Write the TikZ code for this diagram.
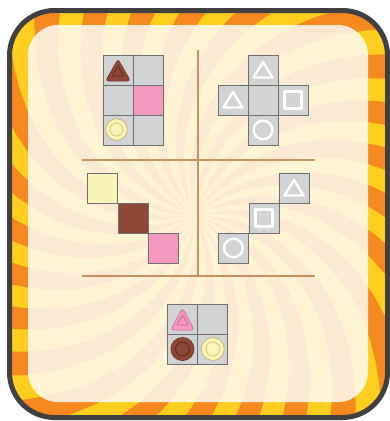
\documentclass[tikz,border=0pt]{standalone}
\usetikzlibrary{calc}
\definecolor{rayO}{RGB}{245,137,32}
\definecolor{rayY}{RGB}{255,206,30}
\definecolor{panelC}{RGB}{255,251,242}
\definecolor{borderC}{RGB}{64,64,66}
\definecolor{cellG}{RGB}{209,211,212}
\definecolor{cellL}{RGB}{110,111,113}
\definecolor{divC}{RGB}{198,146,98}
\definecolor{pinkC}{RGB}{244,154,193}
\definecolor{pinkD}{RGB}{214,100,145}
\definecolor{brownC}{RGB}{141,72,56}
\definecolor{brownD}{RGB}{105,45,35}
\definecolor{yelC}{RGB}{249,245,184}
\definecolor{yelD}{RGB}{190,172,100}
\definecolor{yelR}{RGB}{222,210,140}
\tikzset{
  cell/.style={draw=cellL, fill=cellG, minimum size=30, inner sep=0pt, line width=0.7pt},
  wsh/.style={draw=white, line width=2.4pt, line join=round},
  divider/.style={draw=divC, line width=2.9pt},
}
\newcommand\whtri[1]{\draw[wsh] ($(#1)+(0,-8)$) -- ($(#1)+(9.5,7.5)$) -- ($(#1)+(-9.5,7.5)$) -- cycle;}
\newcommand\whsq[1]{\draw[wsh] ($(#1)+(-8.5,-8.5)$) rectangle ($(#1)+(8.5,8.5)$);}
\newcommand\whcirc[1]{\draw[wsh] (#1) circle[radius=9.3];}
\begin{document}
\begin{tikzpicture}[x=1pt,y=-1pt]
\useasboundingbox (0,0) rectangle (390,421);
% sunburst background
\begin{scope}
\clip[rounded corners=45] (9.5,10.5) rectangle (387.5,417.5);
\fill[rayY] (0,0) rectangle (390,421);
\foreach \a in {0,15,...,345} {
  \fill[rayO] plot[domain=0:430,samples=25] ({195+\x*cos(\a+0.2*\x)},{215+\x*sin(\a+0.2*\x)})
     -- plot[domain=430:0,samples=25] ({195+\x*cos(\a+7.5+0.2*\x)},{215+\x*sin(\a+7.5+0.2*\x)}) -- cycle;
}
\end{scope}
% inner panel
\fill[panelC, opacity=0.86, rounded corners=30] (28,25) rectangle (368,402);
% outer border
\draw[borderC, line width=5pt, rounded corners=45] (9.5,10.5) rectangle (387.5,417.5);
% dividers
\coordinate (vt) at (198,50);
\coordinate (vb) at (198,276);
\coordinate (h1l) at (82,160);
\coordinate (h1r) at (315,160);
\coordinate (h2l) at (82,276);
\coordinate (h2r) at (315,276);
\draw[divider] (vt) -- (vb);
\draw[divider] (h1l) -- (h1r);
\draw[divider] (h2l) -- (h2r);
% top-left grid
\node[cell] (a11) at (118,70) {};
\node[cell] (a12) at (148,70) {};
\node[cell] (a21) at (118,100) {};
\node[cell, fill=pinkC] (a22) at (148,100) {};
\node[cell] (a31) at (118,130) {};
\node[cell] (a32) at (148,130) {};
% brown triangle token
\fill[brownC, draw=brownD, line width=0.5pt, rounded corners=3pt] ($(a11)+(0,-11)$) -- ($(a11)+(12.5,11)$) -- ($(a11)+(-12.5,11)$) -- cycle;
\draw[brownD, line width=1pt, rounded corners=1pt] ($(a11)+(0,-4)$) -- ($(a11)+(6,6)$) -- ($(a11)+(-6,6)$) -- cycle;
% yellow circle token
\draw[fill=yelC, draw=yelD, line width=0.6pt] ($(a31)+(-1.5,-0.5)$) circle[radius=10.8];
\draw[yelR, line width=1.2pt] ($(a31)+(-1.5,-0.5)$) circle[radius=6.5];
% top-right cross
\node[cell] (b1) at (263,70) {};
\node[cell] (b2) at (233,100) {};
\node[cell] (b3) at (263,100) {};
\node[cell] (b4) at (293,100) {};
\node[cell] (b5) at (263,130) {};
\whtri{b1}
\whtri{b2}
\whsq{b4}
\whcirc{b5}
% middle-left diagonal
\node[cell, fill=yelC] (c1) at (102.5,188) {};
\node[cell, fill=brownC] (c2) at (133,218) {};
\node[cell, fill=pinkC] (c3) at (163.5,248) {};
% middle-right diagonal
\node[cell] (d1) at (294,188) {};
\node[cell] (d2) at (264,218) {};
\node[cell] (d3) at (233.5,248) {};
\whtri{d1}
\whsq{d2}
\whcirc{d3}
% bottom grid
\node[cell] (e11) at (182.5,319) {};
\node[cell] (e12) at (212.8,319) {};
\node[cell] (e21) at (182.5,349) {};
\node[cell] (e22) at (212.8,349) {};
% pink triangle token
\fill[pinkC, draw=pinkD, line width=0.6pt, rounded corners=3pt] ($(e11)+(0,-11)$) -- ($(e11)+(11.8,11)$) -- ($(e11)+(-11.8,11)$) -- cycle;
\draw[pinkD, line width=0.8pt, rounded corners=1pt] ($(e11)+(0,-4)$) -- ($(e11)+(6,6)$) -- ($(e11)+(-6,6)$) -- cycle;
% brown circle token
\draw[fill=brownC, draw=brownD, line width=0.6pt] (e21) circle[radius=11.6];
\draw[brownD, line width=1.1pt] (e21) circle[radius=7];
% yellow circle token
\draw[fill=yelC, draw=yelD, line width=0.6pt] (e22) circle[radius=11.4];
\draw[yelR, line width=1.2pt] (e22) circle[radius=7];
\end{tikzpicture}
\end{document}
